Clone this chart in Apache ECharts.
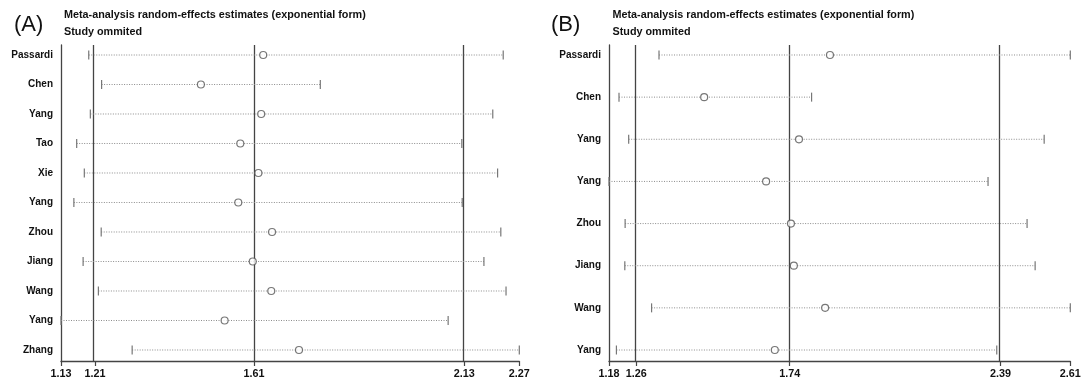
<!DOCTYPE html>
<html>
<head>
<meta charset="utf-8">
<script src="https://cdn.jsdelivr.net/npm/echarts@6/dist/echarts.min.js"></script>
<style>
  html, body { margin: 0; padding: 0; background: #fff; }
  #chart { width: 1085px; height: 386px; }
</style>
</head>
<body>
<div id="chart"></div>
<script>
// panel A: study omitted, estimate and CI
const namesA = ['Passardi', 'Chen', 'Yang', 'Tao', 'Xie', 'Yang', 'Zhou', 'Jiang', 'Wang', 'Yang', 'Zhang'];
const estA = [1.633, 1.478, 1.628, 1.576, 1.621, 1.571, 1.655, 1.607, 1.653, 1.537, 1.722];
const lowA = [1.199, 1.231, 1.203, 1.169, 1.188, 1.162, 1.230, 1.185, 1.223, 1.13, 1.307];
const highA = [2.230, 1.775, 2.204, 2.127, 2.216, 2.128, 2.224, 2.182, 2.237, 2.093, 2.27];
const refA = [1.2146, 1.61, 2.133];
const ticksA = [1.13, 1.2146, 1.61, 2.133, 2.27];
const tickLabelsA = ['1.13', '1.21', '1.61', '2.13', '2.27'];

// panel B
const namesB = ['Passardi', 'Chen', 'Yang', 'Yang', 'Zhou', 'Jiang', 'Wang', 'Yang'];
const estB = [1.865, 1.475, 1.769, 1.667, 1.744, 1.753, 1.850, 1.694];
const lowB = [1.335, 1.211, 1.241, 1.18, 1.230, 1.229, 1.312, 1.203];
const highB = [2.61, 1.808, 2.529, 2.355, 2.476, 2.501, 2.61, 2.382];
const refB = [1.2646, 1.74, 2.394];
const ticksB = [1.18, 1.2646, 1.74, 2.394, 2.61];
const tickLabelsB = ['1.18', '1.26', '1.74', '2.39', '2.61'];

const FONT = '"Liberation Sans", Arial, sans-serif';
const AXIS_COLOR = '#444';

const chart = echarts.init(document.getElementById('chart'), null, { renderer: 'canvas' });

const ciRender = (params, api) => {
  const y = api.value(2);
  const p1 = api.coord([api.value(0), y]);
  const p2 = api.coord([api.value(1), y]);
  const capStyle = { stroke: '#777', lineWidth: 1.2 };
  return {
    type: 'group',
    children: [
      { type: 'line', shape: { x1: p1[0], y1: p1[1], x2: p2[0], y2: p2[1] },
        style: { stroke: '#8c8c8c', lineWidth: 1, lineDash: [1, 1.5] } },
      { type: 'line', shape: { x1: p1[0], y1: p1[1] - 4.5, x2: p1[0], y2: p1[1] + 4.5 }, style: capStyle },
      { type: 'line', shape: { x1: p2[0], y1: p2[1] - 4.5, x2: p2[0], y2: p2[1] + 4.5 }, style: capStyle }
    ]
  };
};

const xAxisFor = (idx, min, max, ticks, labels) => ({
  type: 'value',
  gridIndex: idx,
  min: min,
  max: max,
  splitLine: { show: false },
  axisLine: { onZero: false, lineStyle: { color: AXIS_COLOR, width: 1.3 } },
  axisTick: { customValues: ticks, length: 5, lineStyle: { color: AXIS_COLOR, width: 1.2 } },
  axisLabel: {
    customValues: ticks,
    margin: 8,
    color: '#111',
    fontFamily: FONT,
    fontSize: 10.8,
    fontWeight: 'bold',
    formatter: (v) => {
      const i = ticks.findIndex((t) => Math.abs(t - v) < 1e-6);
      return i >= 0 ? labels[i] : '';
    }
  }
});

const yAxisFor = (idx, min, max, names) => ({
  type: 'value',
  gridIndex: idx,
  inverse: true,
  min: min,
  max: max,
  splitLine: { show: false },
  axisTick: { show: false },
  axisLine: { show: true, onZero: false, lineStyle: { color: AXIS_COLOR, width: 1.3 } },
  axisLabel: {
    customValues: names.map((n, i) => i),
    margin: 8,
    color: '#111',
    fontFamily: FONT,
    fontSize: 10,
    fontWeight: 'bold',
    formatter: (v) => names[Math.round(v)] || ''
  }
});

const seriesFor = (idx, names, low, high, est, refs) => [
  {
    type: 'custom',
    xAxisIndex: idx,
    yAxisIndex: idx,
    renderItem: ciRender,
    encode: { x: [0, 1], y: 2 },
    data: low.map((l, i) => [l, high[i], i]),
    silent: true,
    z: 2
  },
  {
    type: 'scatter',
    xAxisIndex: idx,
    yAxisIndex: idx,
    symbol: 'circle',
    symbolSize: 7,
    itemStyle: { color: '#fff', borderColor: '#555', borderWidth: 1.2 },
    data: est.map((v, i) => [v, i]),
    silent: true,
    z: 4,
    markLine: {
      silent: true,
      symbol: 'none',
      label: { show: false },
      lineStyle: { color: AXIS_COLOR, width: 1.3, type: 'solid' },
      data: refs.map((v) => ({ xAxis: v })),
      z: 1
    }
  }
];

const textEl = (text, left, top, size, weight) => ({
  type: 'text',
  left: left,
  top: top,
  style: { text: text, font: `${weight} ${size}px ${FONT}`, fill: '#111' }
});

const options = {
  animation: false,
  backgroundColor: '#fff',
  grid: [
    { left: 61, top: 45, width: 458.3, height: 316 },
    { left: 609, top: 45, width: 461.3, height: 316 }
  ],
  xAxis: [
    xAxisFor(0, 1.13, 2.27, ticksA, tickLabelsA),
    xAxisFor(1, 1.18, 2.61, ticksB, tickLabelsB)
  ],
  yAxis: [
    yAxisFor(0, -0.339, 10.373, namesA),
    yAxisFor(1, -0.237, 7.261, namesB)
  ],
  series: [
    ...seriesFor(0, namesA, lowA, highA, estA, refA),
    ...seriesFor(1, namesB, lowB, highB, estB, refB)
  ],
  graphic: [
    textEl('(A)', 14, 14, 22, 'normal'),
    textEl('Meta-analysis random-effects estimates (exponential form)', 64, 10, 10.8, 'bold'),
    textEl('Study ommited', 64, 26.5, 10.8, 'bold'),
    textEl('(B)', 551, 14, 22, 'normal'),
    textEl('Meta-analysis random-effects estimates (exponential form)', 612.5, 10, 10.8, 'bold'),
    textEl('Study ommited', 612.5, 26.5, 10.8, 'bold')
  ]
};

chart.setOption(options);
</script>
</body>
</html>
